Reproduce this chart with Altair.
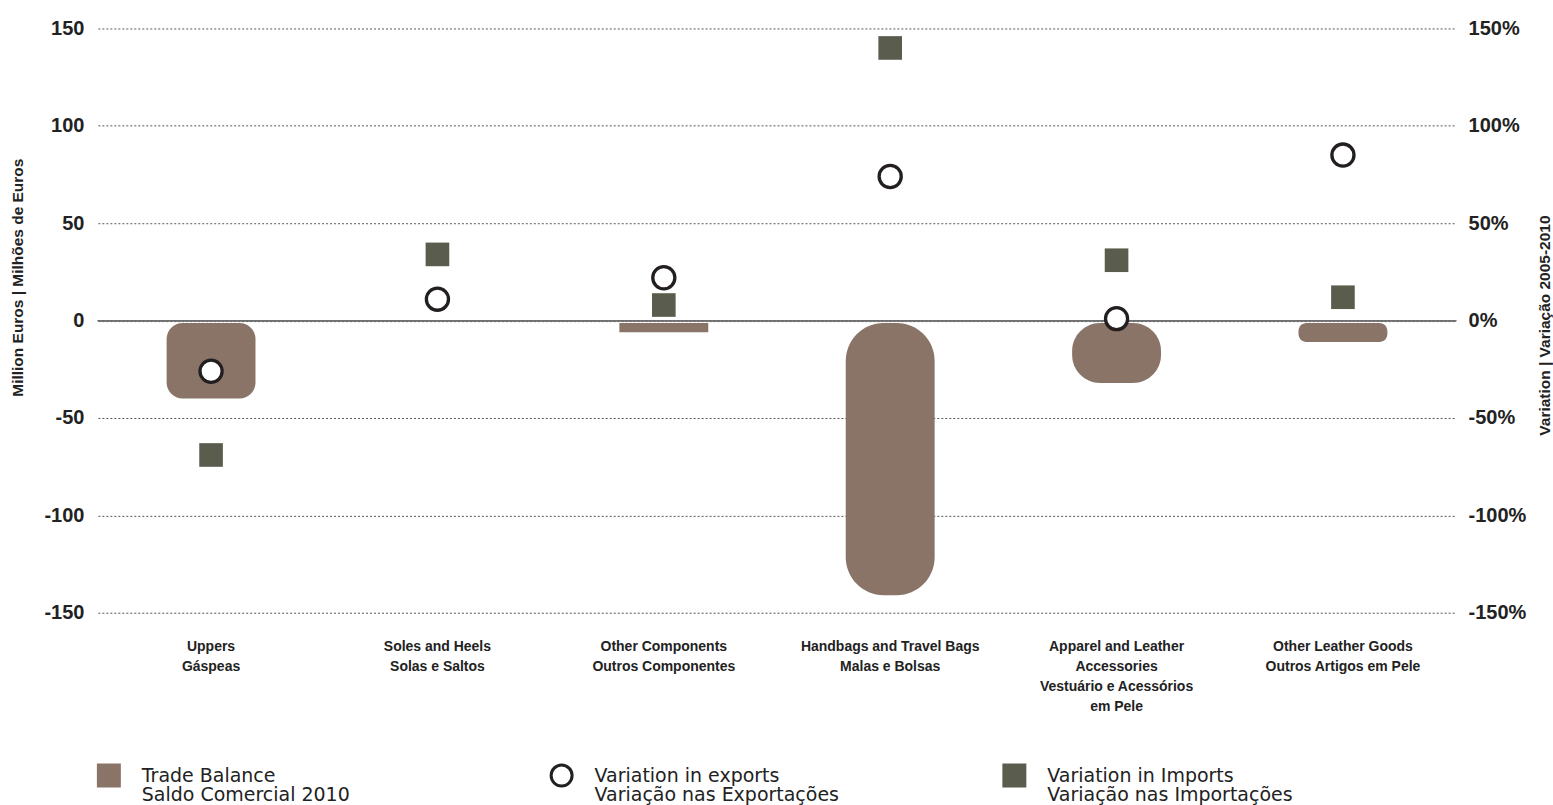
import altair as alt
import pandas as pd

# --- data -------------------------------------------------------------------
categories = [
    "Uppers|Gáspeas",
    "Soles and Heels|Solas e Saltos",
    "Other Components|Outros Componentes",
    "Handbags and Travel Bags|Malas e Bolsas",
    "Apparel and Leather|Accessories|Vestuário e Acessórios|em Pele",
    "Other Leather Goods|Outros Artigos em Pele",
]
trade_balance = [-40, 0, -6, -141, -32, -11]          # million euros, 2010
export_variation = [-26, 11, 22, 74, 1, 85]           # % change 2005-2010
import_variation = [-69, 34, 8, 140, 31, 12]          # % change 2005-2010
y_ticks = [-150, -100, -50, 0, 50, 100, 150]

legend_labels = [
    "Trade Balance|Saldo Comercial 2010",
    "Variation in exports|Variação nas Exportações",
    "Variation in Imports|Variação nas Importações",
]

# --- style ------------------------------------------------------------------
FONT = "Liberation Sans"
LEGEND_FONT = "DejaVu Sans"
BAR_COLOR = "#8a7468"
IMPORT_COLOR = "#5a5d4d"
EXPORT_STROKE = "#231f20"
TEXT_COLOR = "#222222"
bar_corner_radius = [16, 0, 0, 38, 28, 8]

df = pd.DataFrame({
    "category": categories,
    "balance": trade_balance,
    "exports": export_variation,
    "imports": import_variation,
    "radius": bar_corner_radius,
})

W, H = 1360, 585
y_scale = alt.Scale(domain=[-150, 150], nice=False, zero=False)

x_enc = alt.X(
    "category:N",
    sort=categories,
    scale=alt.Scale(paddingInner=0, paddingOuter=0),
    axis=alt.Axis(
        title=None, labelAngle=0, domain=False, ticks=False,
        labelExpr="split(datum.label, '|')",
        labelFont=FONT, labelFontSize=14, labelFontWeight="bold",
        labelColor=TEXT_COLOR, labelLineHeight=20, labelPadding=27,
        labelLimit=0,
    ),
)

base = alt.Chart(df)

bars = base.transform_filter("datum.balance != 0").mark_bar(
    color=BAR_COLOR, size=89, y2Offset=2.5,
    cornerRadius=alt.ExprRef("datum.radius"),
).encode(
    x=x_enc,
    y=alt.Y(
        "balance:Q", scale=y_scale,
        axis=alt.Axis(
            values=y_ticks, orient="left", grid=True, gridDash=[2, 2],
            gridColor="#555555", gridWidth=1, domain=False, ticks=False,
            labelExpr="'' + datum.value",
            labelFont=FONT, labelFontSize=20, labelFontWeight="bold",
            labelColor=TEXT_COLOR, labelPadding=14,
            title="Million Euros | Milhões de Euros",
            titleFont=FONT, titleFontSize=15.5, titleFontWeight="bold",
            titleColor=TEXT_COLOR, titleAngle=-90, titleBaseline="middle",
            titleAlign="center", titleX=-80, titleY=249,
        ),
    ),
    y2=alt.datum(0),
)

zero_line = base.mark_rule(color="#6f6f6f", strokeWidth=1.3).encode(
    y=alt.datum(0, scale=y_scale, axis=None),
)

imports = base.mark_point(
    shape="square", filled=True, size=560, color=IMPORT_COLOR, opacity=1,
).encode(
    x=x_enc,
    y=alt.Y("imports:Q", scale=y_scale, axis=None),
)

exports = base.mark_point(
    shape="circle", filled=False, size=490, fill="white", fillOpacity=1,
    stroke=EXPORT_STROKE, strokeWidth=3.3, opacity=1,
).encode(
    x=x_enc,
    y=alt.Y(
        "exports:Q", scale=y_scale,
        axis=alt.Axis(
            values=y_ticks, orient="right", grid=False, domain=False,
            ticks=False, labelExpr="'' + datum.value + '%'",
            labelFont=FONT, labelFontSize=20, labelFontWeight="bold",
            labelColor=TEXT_COLOR, labelPadding=12,
            title="Variation | Variação 2005-2010",
            titleFont=FONT, titleFontSize=15.5, titleFontWeight="bold",
            titleColor=TEXT_COLOR, titleAngle=-90, titleBaseline="middle",
            titleAlign="center", titleX=88, titleY=297,
        ),
    ),
)

main = alt.layer(bars, zero_line, imports, exports).resolve_axis(
    y="independent"
).properties(width=W, height=H)

# --- legend row -------------------------------------------------------------
legend_df = pd.DataFrame({
    "idx": [0, 1, 2],
    "label": legend_labels,
    "shape": ["square", "circle", "square"],
    "fill": [BAR_COLOR, "white", IMPORT_COLOR],
    "stroke": [BAR_COLOR, EXPORT_STROKE, IMPORT_COLOR],
})
lx = alt.X("idx:Q", scale=alt.Scale(domain=[0, 3], nice=False), axis=None)

legend_symbols = alt.Chart(legend_df).mark_point(
    size=441, strokeWidth=3, opacity=1, fillOpacity=1, xOffset=11,
).encode(
    x=lx,
    shape=alt.Shape("shape:N", scale=None),
    fill=alt.Fill("fill:N", scale=None),
    stroke=alt.Stroke("stroke:N", scale=None),
)

legend_text = alt.Chart(legend_df).transform_calculate(
    lines="split(datum.label, '|')"
).mark_text(
    align="left", baseline="top", dx=44, dy=-9, font=LEGEND_FONT,
    fontSize=19, lineHeight=20, color=TEXT_COLOR,
).encode(
    x=lx,
    text="lines:N",
)

legend = alt.layer(legend_symbols, legend_text).properties(width=W, height=40)

chart = alt.vconcat(main, legend, spacing=42).properties(
    padding={"left": 11, "top": 18, "right": 0, "bottom": 0},
    background="white",
).configure_view(stroke=None)

chart.save("out.html", embed_options={"renderer": "svg", "actions": False})
